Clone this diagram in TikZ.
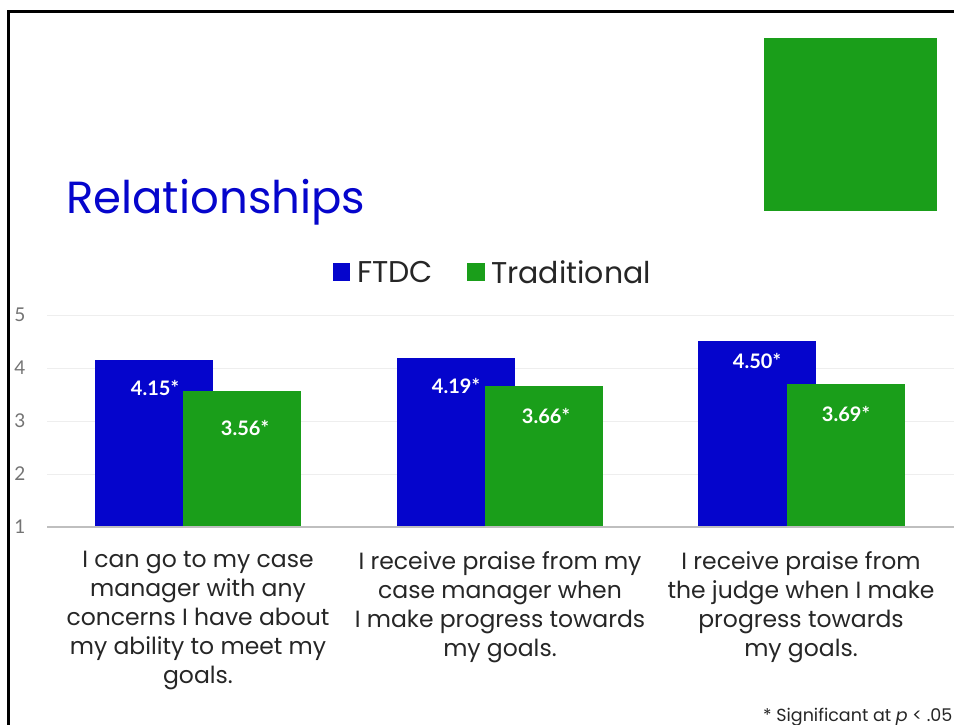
\documentclass[tikz,border=0pt]{standalone}
\usepackage{fontspec}
\setmainfont{Poppins}
\newfontfamily\numfont{Lato}
\definecolor{ftdc}{HTML}{0505CC}
\definecolor{trad}{HTML}{1A9E1A}
\definecolor{gridc}{HTML}{EEEEEE}
\definecolor{axisc}{HTML}{BFBFBF}
\definecolor{ylab}{HTML}{737373}
\definecolor{txt}{HTML}{262626}
\begin{document}
\begin{tikzpicture}[x=1pt,y=-1pt,
  bluebar/.style={fill=ftdc},
  greenbar/.style={fill=trad},
  vallab/.style={text=white,font=\numfont\bfseries\fontsize{20}{22}\selectfont,inner sep=0pt},
  ylabel/.style={text=ylab,font=\numfont\fontsize{19}{20}\selectfont,inner sep=0pt},
  catlab/.style={text=txt,align=center,font=\fontsize{23.5}{29}\selectfont,inner sep=0pt,anchor=north},
  legtext/.style={text=txt,font=\fontsize{30}{32}\selectfont,inner sep=0pt,anchor=west}]
\useasboundingbox (0,0) rectangle (954,725);
\clip (0,0) rectangle (954,725);
% frame
\draw[line width=3pt] (8,726) -- (8,12) -- (956,12);
% logo square
\fill[trad] (764,38) rectangle (937,211);
% title
\node[anchor=base west,inner sep=0pt,text=ftdc,font=\fontsize{45}{50}\selectfont] (title) at (66,213) {Relationships};
% legend
\fill[ftdc] (333,263) rectangle (350,281);
\node[legtext] (legA) at (357,272) {FTDC};
\fill[trad] (467,263) rectangle (485,281);
\node[legtext] (legB) at (491,272) {Traditional};
% grid
\foreach \v/\yy in {5/315,4/368,3/421,2/474} {
  \draw[gridc,line width=1pt] (47,\yy) -- (954,\yy);
  \node[ylabel] (y\v) at (20,\yy) {\v};
}
\node[ylabel] (y1) at (20,527) {1};
% bars
\fill[bluebar] (95,527) rectangle (213,360);
\fill[greenbar] (183,527) rectangle (301,391);
\fill[bluebar] (397,527) rectangle (515,358);
\fill[greenbar] (485,527) rectangle (603,386);
\fill[bluebar] (698,527) rectangle (816,341);
\fill[greenbar] (787,527) rectangle (905,384);
% axis
\draw[axisc,line width=1.5pt] (47,527) -- (954,527);
% value labels
\node[vallab] (v1a) at (155,388) {4.15*};
\node[vallab] (v1b) at (245,428) {3.56*};
\node[vallab] (v2a) at (456,386) {4.19*};
\node[vallab] (v2b) at (546,416) {3.66*};
\node[vallab] (v3a) at (757,361) {4.50*};
\node[vallab] (v3b) at (846,414) {3.69*};
% category labels
\node[catlab] (c1) at (198,551) {I can go to my case\\manager with any\\concerns I have about\\my ability to meet my\\goals.};
\node[catlab] (c2) at (500,551) {I receive praise from my\\case manager when\\I make progress towards\\my goals.};
\node[catlab] (c3) at (801,551) {I receive praise from\\the judge when I make\\progress towards\\my goals.};
% footnote
\node[anchor=base west,inner sep=0pt,text=txt,font=\fontsize{17.5}{18}\selectfont] (foot) at (763,721) {* Significant at \textit{p} < .05};
\end{tikzpicture}
\end{document}
